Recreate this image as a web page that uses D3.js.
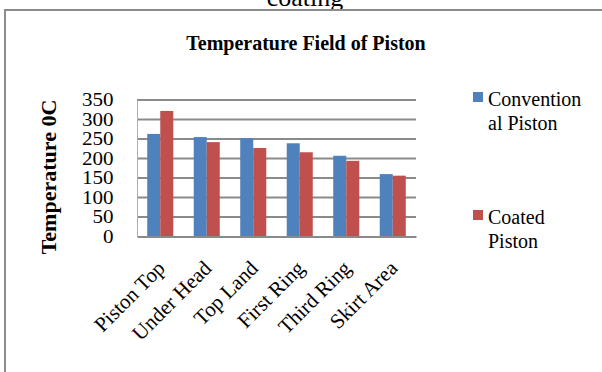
<!DOCTYPE html>
<html>
<head>
<meta charset="utf-8">
<script src="https://cdn.jsdelivr.net/npm/d3@7"></script>
<style>
  body { margin: 0; background: #fff; }
  svg { display: block; }
  svg text, svg tspan { font-family: "Liberation Serif", "Times New Roman", serif; }
</style>
</head>
<body>
<div id="chart"></div>
<script>
const categories = ["Piston Top", "Under Head", "Top Land", "First Ring", "Third Ring", "Skirt Area"];
const seriesNames = ["Conventional Piston", "Coated Piston"];
const conventional = [263, 255, 252, 239, 207, 160];
const coated = [322, 242, 227, 216, 194, 156];
const yTicks = [0, 50, 100, 150, 200, 250, 300, 350];

const width = 602;
const height = 372;
const colors = ["#4f81bd", "#c0504d"];

const data = categories.map((c, i) => ({ name: c, values: [conventional[i], coated[i]] }));

const svg = d3
  .select("#chart")
  .append("svg")
  .attr("width", width)
  .attr("height", height);

// caption of the page above, cut off
svg
  .append("text")
  .attr("x", 305)
  .attr("y", 6)
  .attr("text-anchor", "middle")
  .style("font-size", "26px")
  .text("coating");

// chart frame (right and bottom sides fall outside the crop)
svg
  .append("rect")
  .attr("x", 5)
  .attr("y", 10)
  .attr("width", 700)
  .attr("height", 500)
  .attr("fill", "none")
  .attr("stroke", "#8c8c8c")
  .attr("stroke-width", 2);

svg
  .append("text")
  .attr("x", 306)
  .attr("y", 50)
  .attr("text-anchor", "middle")
  .style("font-size", "20px")
  .style("font-weight", "bold")
  .text("Temperature Field of Piston");

const plot = { left: 137, right: 416, top: 100, bottom: 236.5 };

const x = d3
  .scaleBand()
  .domain(categories)
  .range([plot.left, plot.right])
  .paddingInner(0.44)
  .paddingOuter(0.22);

const x1 = d3.scaleBand().domain([0, 1]).range([0, x.bandwidth()]);

const y = d3.scaleLinear().domain([0, 350]).range([plot.bottom, plot.top]);

// gridlines
svg
  .append("g")
  .selectAll("line")
  .data(yTicks.slice(1))
  .join("line")
  .attr("x1", plot.left)
  .attr("x2", plot.right)
  .attr("y1", (d) => y(d))
  .attr("y2", (d) => y(d))
  .attr("stroke", "#8a8a8a")
  .attr("stroke-width", 2);

// bars
const groups = svg
  .append("g")
  .selectAll("g")
  .data(data)
  .join("g")
  .attr("transform", (d) => `translate(${x(d.name)},0)`);

groups
  .selectAll("rect")
  .data((d) => d.values)
  .join("rect")
  .attr("x", (d, i) => x1(i))
  .attr("y", (d) => y(d))
  .attr("width", x1.bandwidth())
  .attr("height", (d) => y(0) - y(d))
  .attr("fill", (d, i) => colors[i]);

// y axis
const yAxis = svg
  .append("g")
  .attr("transform", `translate(${plot.left},0)`)
  .call(d3.axisLeft(y).tickValues(yTicks).tickSize(0).tickPadding(20))
  .attr("font-family", null)
  .attr("font-size", null);

yAxis.select(".domain").attr("stroke", "#b0b0b0").attr("stroke-width", 1);
yAxis
  .selectAll("text")
  .style("font-size", "18px")
  .attr("fill", "#000")
  .attr("transform", "scale(1.17,1)");

// x axis
const xAxis = svg
  .append("g")
  .attr("transform", `translate(0,${plot.bottom})`)
  .call(d3.axisBottom(x).tickSize(0).tickSizeOuter(0))
  .attr("font-family", null)
  .attr("font-size", null);

xAxis.select(".domain").attr("stroke", "#8a8a8a").attr("stroke-width", 2);
xAxis
  .selectAll("text")
  .style("font-size", "21px")
  .attr("fill", "#000")
  .attr("text-anchor", "end")
  .attr("y", 0)
  .attr("dy", 0)
  .attr("transform", "translate(6,33) rotate(-45)");

// y axis title
svg
  .append("text")
  .attr("transform", "translate(56,177) rotate(-90)")
  .attr("text-anchor", "middle")
  .style("font-size", "22px")
  .style("font-weight", "bold")
  .text("Temperature 0C");

// legend
const legendLines = [["Convention", "al Piston"], ["Coated", "Piston"]];
const legend = svg
  .append("g")
  .selectAll("g")
  .data(seriesNames)
  .join("g")
  .attr("transform", (d, i) => `translate(473,${i === 0 ? 92 : 210})`);

legend
  .append("rect")
  .attr("width", 10)
  .attr("height", 10)
  .attr("fill", (d, i) => colors[i]);

legend
  .append("text")
  .style("font-size", "20px")
  .style("font-family", '"Liberation Serif", "Times New Roman", serif')
  .selectAll("tspan")
  .data((d, i) => legendLines[i])
  .join("tspan")
  .attr("x", 15)
  .attr("y", (d, i) => 14 + i * 23.5)
  .text((d) => d);
</script>
</body>
</html>
